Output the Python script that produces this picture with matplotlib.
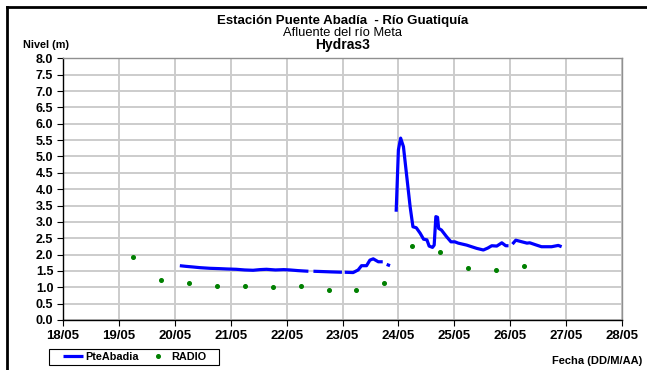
import numpy as np
import matplotlib
matplotlib.use("Agg")
import matplotlib.pyplot as plt
from matplotlib.lines import Line2D
from matplotlib.patches import Rectangle

plt.rcParams['font.family'] = ['Liberation Sans', 'DejaVu Sans']

# ---- data ----
nan = np.nan
line_days = [20.09, 20.20, 20.33, 20.45, 20.63, 20.80, 20.93, 21.10, 21.25, 21.40, 21.52, 21.64, 21.80, 21.95, 22.06, 22.20, 22.39,
             nan,
             22.48, 22.65, 22.80, 22.99,
             nan,
             23.04, 23.19, 23.28, 23.34, 23.43, 23.49, 23.55, 23.64, 23.72,
             nan,
             23.79, 23.85,
             nan,
             23.96, 24.00, 24.04, 24.09, 24.15, 24.21, 24.26, 24.32, 24.39, 24.45, 24.51, 24.55, 24.61, 24.64, 24.67, 24.70,
             24.72, 24.77, 24.86, 24.94, 25.01, 25.07, 25.22, 25.40, 25.52, 25.60, 25.67, 25.76, 25.85, 25.92, 25.97,
             nan,
             26.04, 26.10, 26.21, 26.30, 26.35, 26.47, 26.56, 26.65, 26.74, 26.86, 26.92]
line_vals = [1.66, 1.64, 1.62, 1.60, 1.58, 1.57, 1.56, 1.55, 1.53, 1.52, 1.54, 1.55, 1.53, 1.54, 1.53, 1.51, 1.49,
             nan,
             1.49, 1.48, 1.47, 1.46,
             nan,
             1.46, 1.45, 1.53, 1.66, 1.66, 1.83, 1.87, 1.78, 1.78,
             nan,
             1.70, 1.66,
             nan,
             3.31, 5.20, 5.56, 5.30, 4.38, 3.46, 2.85, 2.82, 2.65, 2.47, 2.45, 2.26, 2.22, 2.29, 3.16, 3.14,
             2.80, 2.75, 2.55, 2.39, 2.39, 2.35, 2.29, 2.19, 2.14, 2.20, 2.27, 2.26, 2.36, 2.27, 2.27,
             nan,
             2.32, 2.44, 2.39, 2.35, 2.36, 2.29, 2.24, 2.24, 2.24, 2.28, 2.24]

radio_days = [19.25, 19.75, 20.25, 20.75, 21.25, 21.75, 22.25, 22.75, 23.25, 23.75, 24.25, 24.75, 25.25, 25.75, 26.25]
radio_vals = [1.92, 1.22, 1.14, 1.03, 1.03, 1.02, 1.03, 0.93, 0.92, 1.13, 2.26, 2.09, 1.60, 1.54, 1.65]

x_ticks = [18, 19, 20, 21, 22, 23, 24, 25, 26, 27, 28]
x_labels = ["18/05", "19/05", "20/05", "21/05", "22/05", "23/05", "24/05", "25/05", "26/05", "27/05", "28/05"]
y_ticks = np.arange(0, 8.01, 0.5)

W, H = 647, 370
fig = plt.figure(figsize=(W / 100, H / 100), dpi=100)
fig.patch.set_facecolor("white")
ax = fig.add_axes([63 / W, 1 - 320 / H, (622 - 63) / W, (320 - 58.3) / H])

ax.plot(line_days, line_vals, color="#0000FF", lw=2.3, solid_capstyle="butt", zorder=3, label="PteAbadia")
ax.plot(radio_days, radio_vals, ls="none", marker="o", ms=2.6, color="#008000", mec="#008000", zorder=4, label="RADIO")

ax.set_xlim(18, 28)
ax.set_ylim(0, 8)
ax.set_xticks(x_ticks)
ax.set_xticklabels(x_labels, fontsize=9.5, fontweight="bold")
ax.set_yticks(y_ticks)
ax.set_yticklabels([f"{v:.1f}" for v in y_ticks], fontsize=9, fontweight="bold")
ax.tick_params(axis="both", length=4, width=0.8, color="black", pad=3)
ax.grid(True, color="#cccccc", lw=1.4)
ax.set_axisbelow(True)
for s in ["top", "right"]:
    ax.spines[s].set_color("#909090")
    ax.spines[s].set_linewidth(1.0)
for s in ["left", "bottom"]:
    ax.spines[s].set_color("black")
    ax.spines[s].set_linewidth(1.0)

# titles
cx = 342.5 / W
fig.text(cx, 1 - 21 / H, "Estación Puente Abadía  - Río Guatiquía", ha="center", va="center",
         fontsize=9.5, fontweight="bold")
fig.text(cx, 1 - 33 / H, "Afluente del río Meta", ha="center", va="center", fontsize=9.3)
fig.text(cx, 1 - 45.5 / H, "Hydras3", ha="center", va="center", fontsize=10, fontweight="bold")
fig.text(46 / W, 1 - 45 / H, "Nivel (m)", ha="center", va="center", fontsize=7.8, fontweight="bold")
fig.text(642 / W, 1 - 361 / H, "Fecha (DD/M/AA)", ha="right", va="center", fontsize=8, fontweight="bold")

# legend box
fig.add_artist(Rectangle((49 / W, 1 - 365 / H), 170 / W, 16 / H, transform=fig.transFigure,
                         facecolor="white", edgecolor="black", lw=0.8))
leg = fig.legend(loc="center left", bbox_to_anchor=(63 / W, 1 - 357 / H),
                 ncol=2, fontsize=7.8, frameon=False, borderpad=0, handlelength=1.8,
                 handletextpad=0.3, borderaxespad=0, columnspacing=0.86)
for t in leg.get_texts():
    t.set_fontweight("bold")

# outer frame (left and top edges)
fig.add_artist(Line2D([7 / W, 7 / W], [0, 1 - 7 / H], color="black", lw=2.0, transform=fig.transFigure))
fig.add_artist(Line2D([7 / W, 1], [1 - 7 / H, 1 - 7 / H], color="black", lw=2.0, transform=fig.transFigure))

fig.savefig("out.png", dpi=100)
